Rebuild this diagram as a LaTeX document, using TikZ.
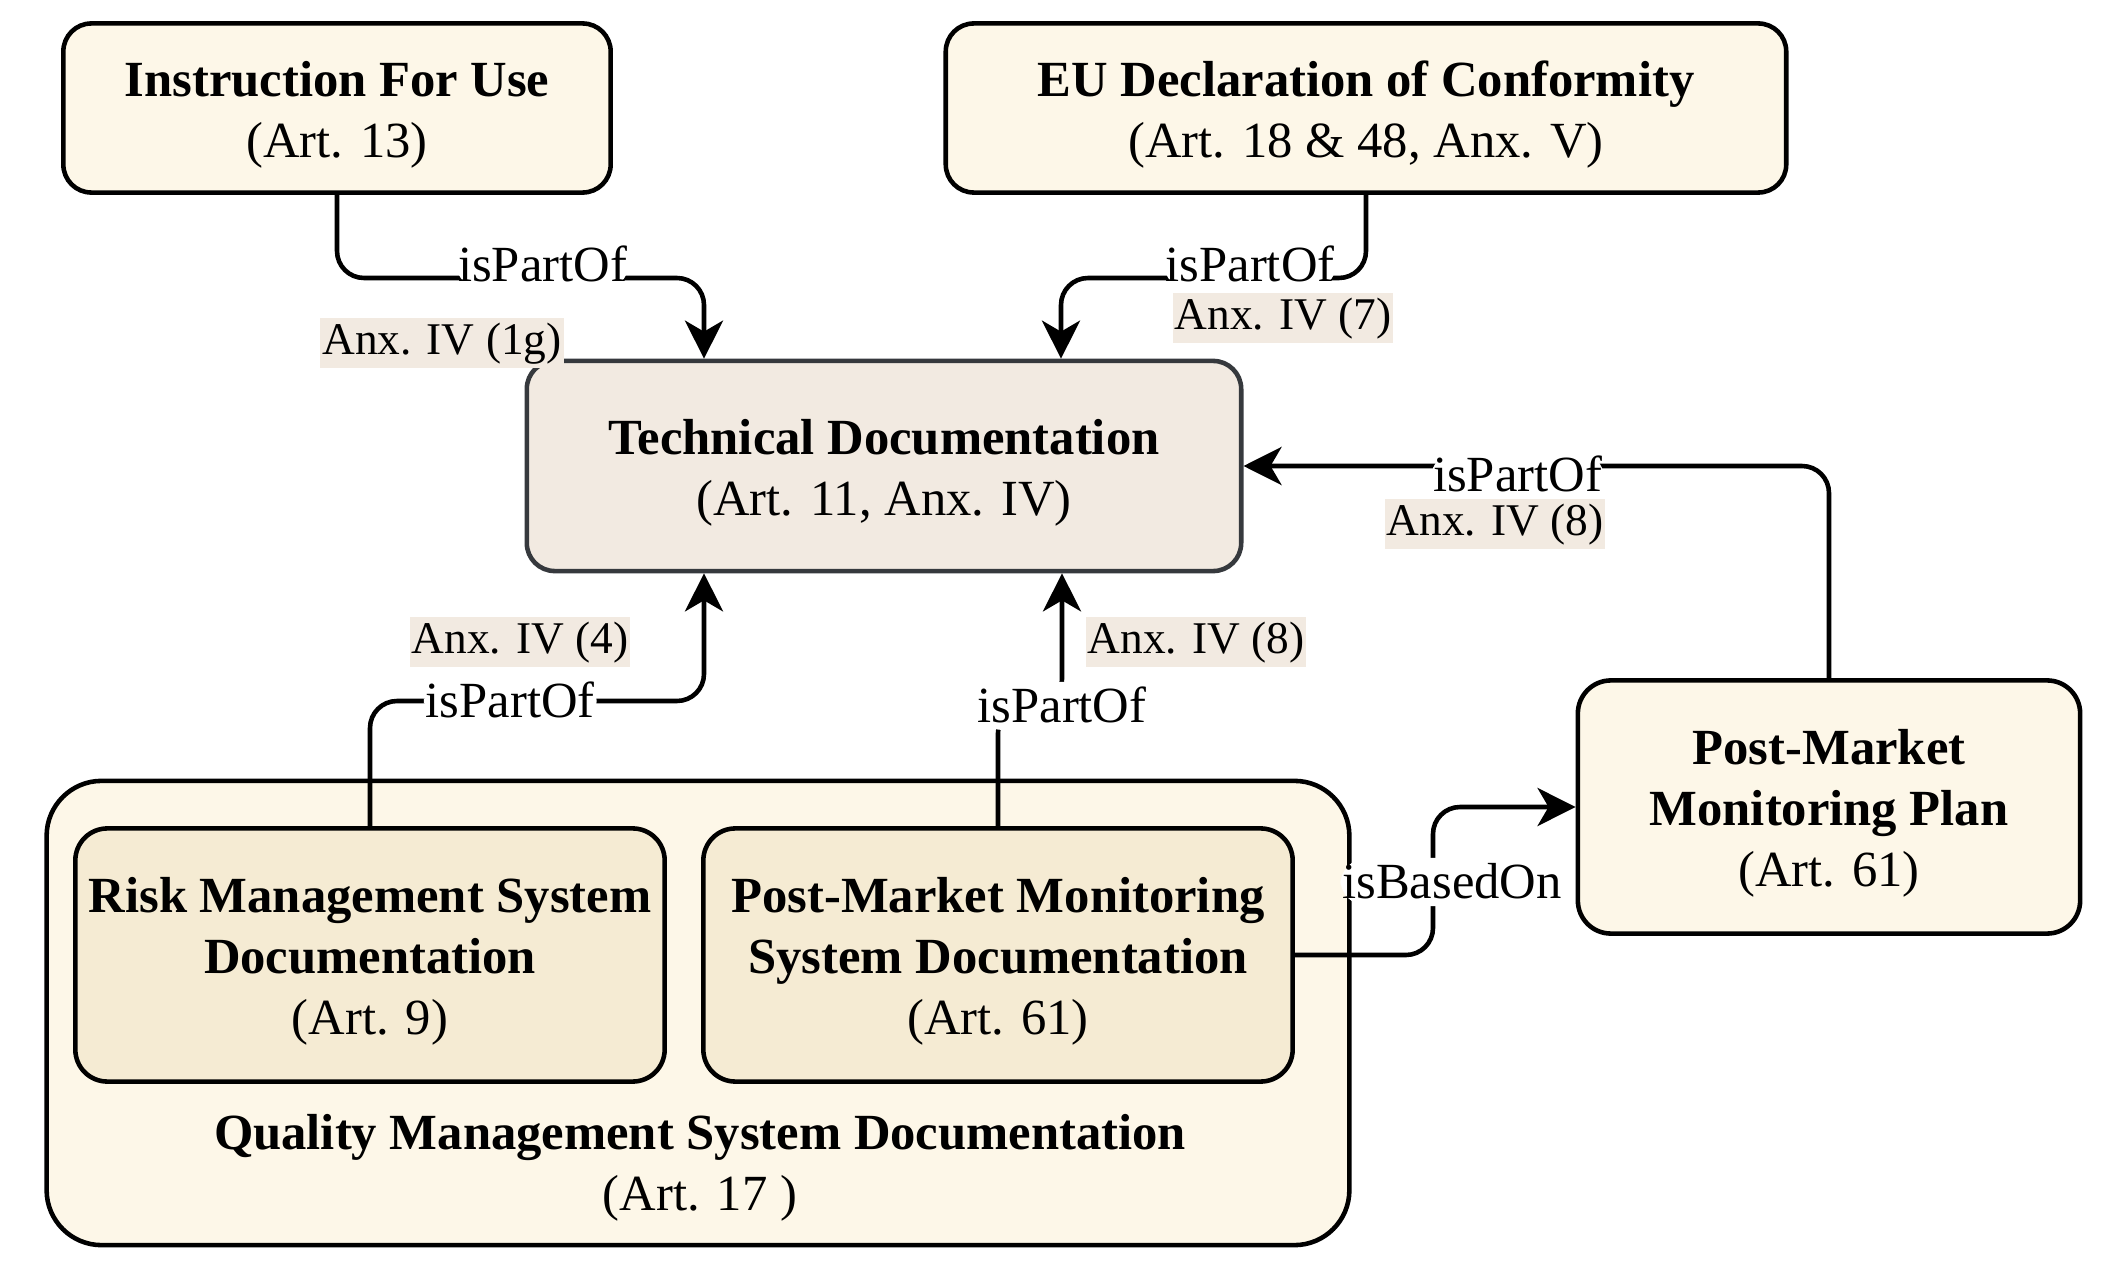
\documentclass[tikz,border=0pt]{standalone}
\usepackage{fontspec}
\setmainfont{Liberation Serif}
\usetikzlibrary{arrows.meta}
\definecolor{cream}{HTML}{FDF7E8}
\definecolor{sand}{HTML}{F5EBD3}
\definecolor{clay}{HTML}{F2EAE1}
\definecolor{slate}{HTML}{36393D}
\newcommand{\toprule}{\rule{0pt}{0.48cm}}
\begin{document}
\begin{tikzpicture}[x=0.01cm,y=-0.01cm,
    box/.style={draw,line width=1.3pt,fill=cream,rounded corners=0.28cm,
      align=center,inner sep=0pt,font=\fontsize{14.4}{17.3}\selectfont},
    link/.style={line width=1.3pt,rounded corners=0.27cm,
      -{Stealth[length=0.38cm,width=0.38cm,inset=0.11cm]}},
    lbl/.style={fill=white,inner xsep=0.02cm,inner ysep=0pt,
      text height=0.40cm,text depth=0.08cm,font=\fontsize{14.4}{17.3}\selectfont},
    anx/.style={fill=clay,inner xsep=0.02cm,inner ysep=0pt,
      text height=0.36cm,text depth=0.14cm,font=\fontsize{12.9}{15}\selectfont}]
  \useasboundingbox (0,0) rectangle (2108,1279);
  % boxes
  \node[box,minimum width=13.02cm,minimum height=4.64cm,rounded corners=0.55cm]
    (qms) at (698,1013) {};
  \node[align=center,font=\fontsize{14.4}{17.3}\selectfont] (qmst) at (700,1168)
    {\textbf{Quality Management System Documentation}\\(Art. 17 )};
  \node[box,minimum width=5.47cm,minimum height=1.69cm] (ifu) at (337,108)
    {\toprule\textbf{Instruction For Use}\\(Art. 13)};
  \node[box,minimum width=8.40cm,minimum height=1.69cm] (eu) at (1366,108)
    {\toprule\textbf{EU Declaration of Conformity}\\(Art. 18 \& 48, Anx. V)};
  \node[box,draw=slate,fill=clay,minimum width=7.14cm,minimum height=2.10cm] (td) at (884,466)
    {\toprule\textbf{Technical Documentation}\\(Art. 11, Anx. IV)};
  \node[box,minimum width=5.02cm,minimum height=2.53cm,rounded corners=0.33cm] (plan) at (1829,807)
    {\toprule\textbf{Post-Market}\\\textbf{Monitoring Plan}\\(Art. 61)};
  \node[box,fill=sand,minimum width=5.89cm,minimum height=2.53cm,rounded corners=0.32cm] (risk) at (370,955)
    {\toprule\textbf{Risk Management System}\\\textbf{Documentation}\\(Art. 9)};
  \node[box,fill=sand,minimum width=5.89cm,minimum height=2.53cm,rounded corners=0.32cm] (pmms) at (998,955)
    {\toprule\textbf{Post-Market Monitoring}\\\textbf{System Documentation}\\(Art. 61)};
  % bends
  \coordinate (b1) at (704,278);
  \coordinate (b2) at (1061,278);
  \coordinate (b3) at (704,701);
  \coordinate (b4) at (1062,706);
  \coordinate (b5) at (1433,882);
  \begin{scope}[link]
    \draw (ifu.south) |- node[lbl,pos=0.78,yshift=0.12cm]{isPartOf} (b1) -- (b1 |- td.north);
    \draw (eu.south) |- node[lbl,pos=0.69,yshift=0.12cm]{isPartOf} (b2) -- (b2 |- td.north);
    \draw (plan.north) |- node[lbl,pos=0.766,yshift=-0.09cm]{isPartOf} (td.east);
    \draw (risk.north) |- node[lbl,pos=0.71]{isPartOf} (b3) -- (b3 |- td.south);
    \draw (pmms.north) |- (b4) node[lbl]{isPartOf} -- (b4 |- td.south);
    \draw (pmms.east) -| (b5) node[lbl,xshift=0.19cm]{isBasedOn} |- (plan.west);
  \end{scope}
  % annex notes
  \node[anx] (x1) at (442,343) {Anx. IV (1g)};
  \node[anx] (x2) at (1283,318) {Anx. IV (7)};
  \node[anx] (x3) at (1495,524) {Anx. IV (8)};
  \node[anx] (x4) at (520,642) {Anx. IV (4)};
  \node[anx] (x5) at (1196,642) {Anx. IV (8)};
\end{tikzpicture}
\end{document}
